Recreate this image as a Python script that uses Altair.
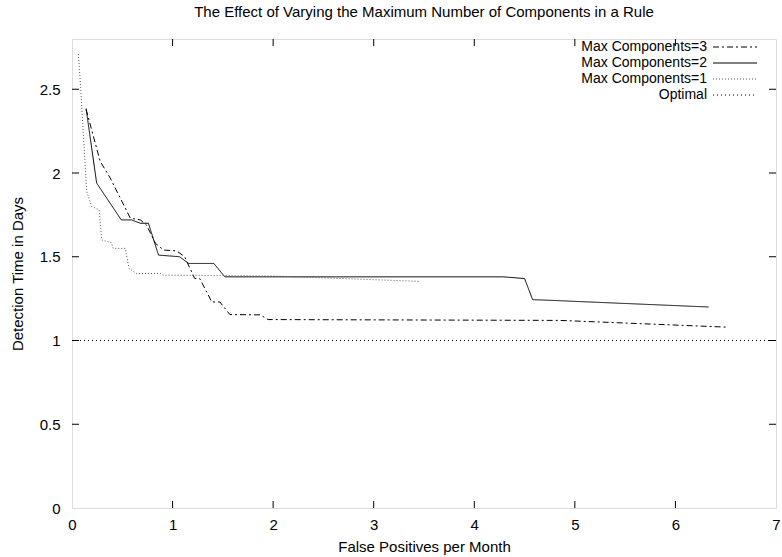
import altair as alt
import pandas as pd

# ---- data ----
m3_x = [0.14, 0.28, 0.38, 0.58, 0.68, 0.74, 0.83, 0.91, 1.04, 1.12, 1.22, 1.27, 1.39, 1.47, 1.57, 1.87, 1.95, 4.85, 6.50]
m3_y = [2.38, 2.07, 1.97, 1.73, 1.72, 1.69, 1.58, 1.54, 1.535, 1.50, 1.37, 1.37, 1.23, 1.23, 1.155, 1.153, 1.125, 1.12, 1.08]

m2_x = [0.14, 0.245, 0.49, 0.59, 0.68, 0.76, 0.86, 1.07, 1.16, 1.41, 1.52, 4.29, 4.50, 4.58, 4.75, 6.33]
m2_y = [2.385, 1.94, 1.72, 1.72, 1.70, 1.70, 1.51, 1.50, 1.46, 1.46, 1.38, 1.38, 1.37, 1.244, 1.24, 1.20]

m1_x = [0.063, 0.086, 0.146, 0.196, 0.27, 0.295, 0.39, 0.41, 0.53, 0.567, 0.64, 0.875, 0.91, 2.0, 3.46]
m1_y = [2.71, 2.51, 1.89, 1.80, 1.78, 1.60, 1.585, 1.55, 1.55, 1.43, 1.40, 1.40, 1.39, 1.385, 1.353]

opt_x = [0, 7]
opt_y = [1, 1]

series_names = ["Max Components=3", "Max Components=2", "Max Components=1", "Optimal"]
x_ticks = [0, 1, 2, 3, 4, 5, 6, 7]
y_ticks = [0, 0.5, 1, 1.5, 2, 2.5]

FONT = "Liberation Sans"
FS = 15
W, H = 704, 469

rows = []
for name, xs_, ys_ in zip(series_names, [m3_x, m2_x, m1_x, opt_x], [m3_y, m2_y, m1_y, opt_y]):
    for i, (a, b) in enumerate(zip(xs_, ys_)):
        rows.append({"series": name, "x": a, "y": b, "i": i})
df = pd.DataFrame(rows)

dashes = [[6, 3, 2, 3], [1, 0], [1, 2], [1, 3]]
colors = ["#000000", "#000000", "#555555", "#000000"]
dash_scale = alt.Scale(domain=series_names, range=dashes)
color_scale = alt.Scale(domain=series_names, range=colors)

xs = alt.Scale(domain=[0, 7], nice=False)
ys = alt.Scale(domain=[0, 2.8], nice=False)

lines = alt.Chart(df).mark_line(strokeWidth=1).encode(
    x=alt.X("x:Q", scale=xs, axis=alt.Axis(
        title="False Positives per Month", values=x_ticks, ticks=False, grid=False,
        labelExpr="datum.value",
        labelFont=FONT, labelFontSize=FS, labelColor="black", labelPadding=9,
        titleFont=FONT, titleFontSize=FS, titleFontWeight="normal", titleColor="black",
        titlePadding=7, domain=False, labelFlush=False)),
    y=alt.Y("y:Q", scale=ys, axis=alt.Axis(
        title="Detection Time in Days", values=y_ticks, ticks=False, grid=False,
        labelExpr="datum.value", labelFont=FONT, labelFontSize=FS, labelColor="black",
        labelPadding=12, titleFont=FONT, titleFontSize=FS, titleFontWeight="normal",
        titleColor="black", titlePadding=14, domain=False, labelFlush=False)),
    detail="series:N",
    order="i:Q",
    strokeDash=alt.StrokeDash("series:N", scale=dash_scale, legend=None),
    color=alt.Color("series:N", scale=color_scale, legend=None),
)

# inward ticks (gnuplot style), mirrored on all four sides
xt = pd.DataFrame({"x": x_ticks[1:-1]})
yt = pd.DataFrame({"y": y_ticks[1:]})
tick_len = 7
bottom_ticks = alt.Chart(xt).mark_rule(color="black").encode(
    x=alt.X("x:Q", scale=xs), y=alt.value(H), y2=alt.value(H - tick_len))
top_ticks = alt.Chart(xt).mark_rule(color="black").encode(
    x=alt.X("x:Q", scale=xs), y=alt.value(0), y2=alt.value(tick_len))
left_ticks = alt.Chart(yt).mark_rule(color="black").encode(
    y=alt.Y("y:Q", scale=ys), x=alt.value(0), x2=alt.value(tick_len))
right_ticks = alt.Chart(yt).mark_rule(color="black").encode(
    y=alt.Y("y:Q", scale=ys), x=alt.value(W), x2=alt.value(W - tick_len))

# legend (text right-aligned, sample line on the right)
LEG_FS = 14
leg_layers = []
leg_y0, leg_dy = 8, 16
for k, name in enumerate(series_names):
    yy = leg_y0 + k * leg_dy
    leg_layers.append(
        alt.Chart(pd.DataFrame({"series": [name]})).mark_text(
            align="right", baseline="middle", font=FONT, fontSize=LEG_FS, color="black"
        ).encode(text="series:N", x=alt.value(635), y=alt.value(yy))
    )
    leg_layers.append(
        alt.Chart(pd.DataFrame({"series": [name]})).mark_rule(
            strokeWidth=1, strokeDash=dashes[k], color=colors[k]
        ).encode(x=alt.value(641), x2=alt.value(685), y=alt.value(yy))
    )

chart = alt.layer(lines, bottom_ticks, top_ticks, left_ticks, right_ticks, *leg_layers).properties(
    width=W, height=H,
    title=alt.TitleParams("The Effect of Varying the Maximum Number of Components in a Rule",
                          font=FONT, fontSize=FS, fontWeight="normal", color="black",
                          anchor="middle", offset=19),
    autosize=alt.AutoSizeParams(type="none"),
    padding={"left": 72, "top": 39, "right": 6, "bottom": 49},
).configure_view(stroke="black", strokeWidth=1).configure(background="white")

chart.save("out.html", embed_options={"renderer": "svg", "actions": False})
